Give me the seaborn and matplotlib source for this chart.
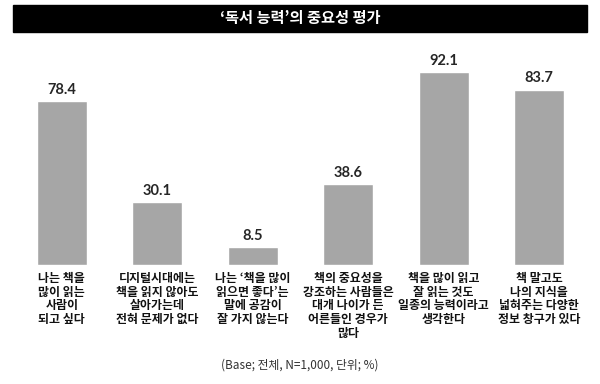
import matplotlib
matplotlib.use("Agg")
import matplotlib.pyplot as plt
import seaborn as sns
import pandas as pd
from matplotlib.patches import Rectangle

categories = [
    "나는 책을\n많이 읽는\n사람이\n되고 싶다",
    "디지털시대에는\n책을 읽지 않아도\n살아가는데\n전혀 문제가 없다",
    "나는 ‘책을 많이\n읽으면 좋다’는\n말에 공감이\n잘 가지 않는다",
    "책의 중요성을\n강조하는 사람들은\n대개 나이가 든\n어른들인 경우가\n많다",
    "책을 많이 읽고\n잘 읽는 것도\n일종의 능력이라고\n생각한다",
    "책 말고도\n나의 지식을\n넓혀주는 다양한\n정보 창구가 있다",
]
values = [78.4, 30.1, 8.5, 38.6, 92.1, 83.7]
title = "‘독서 능력’의 중요성 평가"
note = "(Base; 전체, N=1,000, 단위; %)"

df = pd.DataFrame({"item": categories, "pct": values})

sns.set_style("white")
plt.rcParams["font.family"] = ["Noto Sans CJK KR", "DejaVu Sans"]

fig = plt.figure(figsize=(6, 3.84), dpi=100)
ax = fig.add_axes([0.0233, 0.31, 0.955, 0.5456])

sns.barplot(data=df, x="item", y="pct", color="#a6a6a6", saturation=1,
            width=0.52, ax=ax)
ax.set_ylim(0, 100)
ax.set_xlim(-0.5, 5.5)
ax.set_xlabel("")
ax.set_ylabel("")
ax.set_yticks([])
sns.despine(ax=ax, left=True, bottom=True)
ax.tick_params(axis="x", length=0, pad=5)
for lbl in ax.get_xticklabels():
    lbl.set_fontsize(8.6)
    lbl.set_fontweight("bold")
    lbl.set_linespacing(1.07)
    lbl.set_color("#111111")

ax.bar_label(ax.containers[0], labels=[f"{v:.1f}" for v in values],
             padding=3, fontsize=10.5, fontweight="bold", family="Lato")

# black title bar
fig.patches.append(Rectangle((13 / 600, 1 - 32 / 384), 574 / 600, 27 / 384,
                             transform=fig.transFigure, color="black"))
fig.text(0.5, 1 - 18.5 / 384, title, color="white", ha="center", va="center",
         fontsize=11, fontweight="bold")

fig.text(0.5, 1 - 365 / 384, note, ha="center", va="center", fontsize=8.5,
         color="#333333")

fig.savefig("out.png", dpi=100)
